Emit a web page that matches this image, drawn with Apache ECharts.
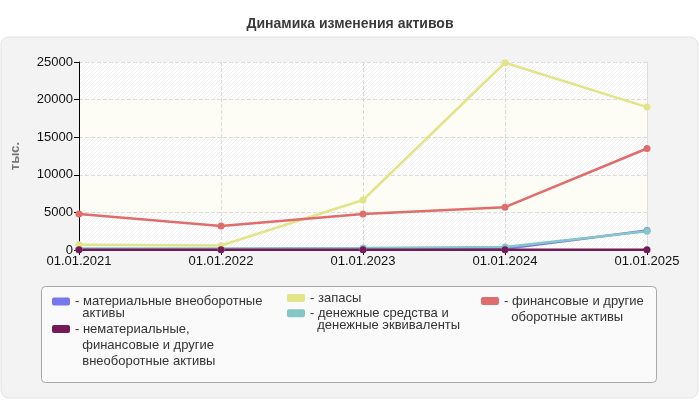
<!DOCTYPE html>
<html>
<head>
<meta charset="utf-8">
<script src="https://cdn.jsdelivr.net/npm/echarts@6/dist/echarts.min.js"></script>
<style>
  html, body { margin: 0; padding: 0; background: #fff; }
  #chart { width: 700px; height: 400px; }
</style>
</head>
<body>
<div id="chart"></div>
<script>
// даты отчётности
var dates = ['01.01.2021', '01.01.2022', '01.01.2023', '01.01.2024', '01.01.2025'];
// значения, тыс.
var materialAssets = [100, 100, 100, 150, 2600];
var intangibleAssets = [20, 20, 20, 20, 20];
var stocks = [700, 600, 6650, 24900, 19000];
var cashAssets = [200, 200, 250, 400, 2500];
var financialAssets = [4800, 3200, 4800, 5700, 13500];
// подписи легенды
var legendNames = [
    'материальные внеоборотные\n  активы',
    'нематериальные,\n  финансовые и другие\n  внеоборотные активы',
    'запасы',
    'денежные средства и\n  денежные эквиваленты',
    'финансовые и другие\n  оборотные активы'
];
var yTicks = { min: 0, max: 25000, interval: 5000 };

var FONT = '"Liberation Sans", Arial, sans-serif';
var myChart = echarts.init(document.getElementById('chart'));

// штриховка фона
function hatch() {
    var c = document.createElement('canvas');
    c.width = 4; c.height = 4;
    var ctx = c.getContext('2d');
    ctx.fillStyle = '#ffffff';
    ctx.fillRect(0, 0, 4, 4);
    ctx.strokeStyle = '#f0f0f0';
    ctx.lineWidth = 1;
    ctx.beginPath();
    ctx.moveTo(0, 4); ctx.lineTo(4, 0);
    ctx.moveTo(-1, 1); ctx.lineTo(1, -1);
    ctx.moveTo(3, 5); ctx.lineTo(5, 3);
    ctx.stroke();
    return { image: c, repeat: 'repeat' };
}

// один пункт легенды; пустые строки сверху, чтобы значок стоял у первой строки
function legendItem(name, left, firstLineY, lh) {
    var n = name.split('\n').length;
    var pad = '';
    for (var i = 1; i < n; i++) pad += '\n';
    return {
        data: [name],
        left: left,
        top: firstLineY - (2 * n - 1) * lh / 2,
        padding: 0,
        orient: 'vertical',
        itemWidth: 18,
        itemHeight: 8,
        itemGap: 0,
        itemStyle: { borderWidth: 0 },
        icon: 'roundRect',
        formatter: function (s) { return pad + '- ' + s; },
        textStyle: { fontSize: 13, color: '#333', lineHeight: lh, fontFamily: FONT }
    };
}

function line(idx, data, color) {
    return {
        name: legendNames[idx],
        type: 'line',
        data: data,
        symbol: 'circle',
        symbolSize: 7,
        lineStyle: { width: 2.5, color: color },
        itemStyle: { color: color },
        animation: false
    };
}

var option = {
    backgroundColor: '#ffffff',
    title: {
        text: 'Динамика изменения активов',
        left: 'center',
        top: 12,
        textStyle: { fontSize: 14, fontWeight: 'bold', color: '#3a3a3a', fontFamily: FONT }
    },
    graphic: [
        {
            type: 'rect', z: -10,
            shape: { x: 1, y: 37, width: 697, height: 361, r: 8 },
            style: { fill: '#f3f3f3', stroke: '#e2e2e2', lineWidth: 1 }
        },
        {
            type: 'rect', z: -9,
            shape: { x: 41.5, y: 286.5, width: 615, height: 96, r: 4 },
            style: { fill: '#fafafa', stroke: '#a8a8a8', lineWidth: 1 }
        }
    ],
    legend: [
        legendItem(legendNames[0], 52, 301, 12),
        legendItem(legendNames[1], 52, 329, 16),
        legendItem(legendNames[2], 287, 298, 14),
        legendItem(legendNames[3], 287, 313, 12.5),
        legendItem(legendNames[4], 481, 301, 16)
    ],
    grid: { left: 79, right: 53, top: 62, bottom: 150 },
    xAxis: [{
        type: 'category',
        data: dates,
        boundaryGap: false,
        axisLine: { lineStyle: { color: '#000' } },
        axisTick: { show: true, length: 5, lineStyle: { color: '#000' } },
        axisLabel: { color: '#111', fontSize: 13, margin: 5, fontFamily: FONT },
        splitLine: { show: true, lineStyle: { color: '#dcdcdc', type: 'dashed' } }
    }, {
        // верхняя рамка
        type: 'category',
        data: dates,
        position: 'top',
        boundaryGap: false,
        axisLine: { show: true, lineStyle: { color: '#dedede' } },
        axisTick: { show: false },
        axisLabel: { show: false },
        splitLine: { show: false }
    }],
    yAxis: [{
        type: 'value',
        min: yTicks.min,
        max: yTicks.max,
        interval: yTicks.interval,
        name: 'тыс.',
        nameLocation: 'middle',
        nameRotate: 90,
        nameGap: 57,
        nameTextStyle: { color: '#777', fontSize: 13, fontWeight: 'bold', fontFamily: FONT },
        axisLine: { show: true, lineStyle: { color: '#000' } },
        axisTick: { show: true, length: 5, lineStyle: { color: '#000' } },
        axisLabel: {
            color: '#111', fontSize: 13, margin: 6, fontFamily: FONT,
            formatter: function (v) { return String(v); }
        },
        splitLine: { show: true, lineStyle: { color: '#dcdcdc', type: 'dashed' } },
        splitArea: { show: true, areaStyle: { color: [hatch(), '#fdfdf5'] } }
    }, {
        // правая рамка
        type: 'value',
        min: yTicks.min,
        max: yTicks.max,
        interval: yTicks.interval,
        position: 'right',
        axisLine: { show: true, lineStyle: { color: '#dedede' } },
        axisTick: { show: false },
        axisLabel: { show: false },
        splitLine: { show: false }
    }],
    series: [
        line(0, materialAssets, '#7777ee'),
        line(3, cashAssets, '#86c6c6'),
        line(2, stocks, '#e3e38a'),
        line(4, financialAssets, '#e06c6c'),
        line(1, intangibleAssets, '#741a56')
    ]
};
myChart.setOption(option);
</script>
</body>
</html>
